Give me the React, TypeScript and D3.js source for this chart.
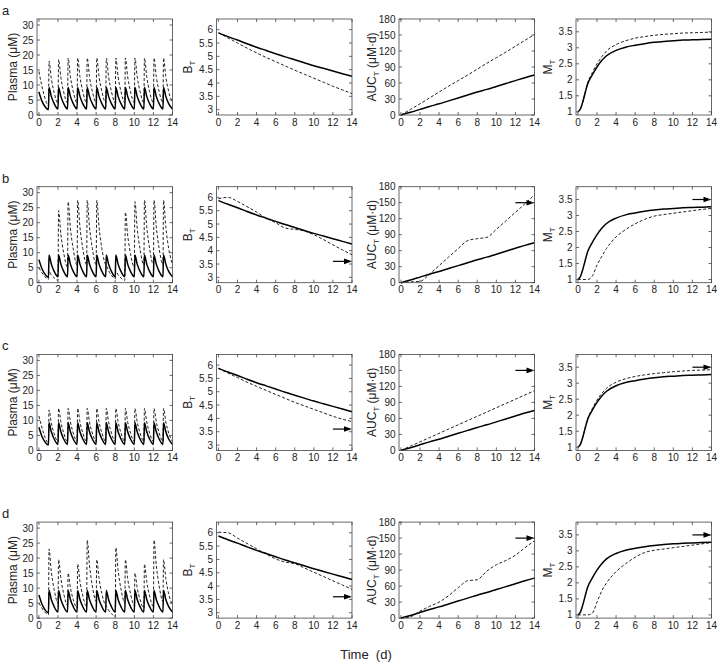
import React from "react";
import * as d3 from "d3";

// panel letters, one per row
const rowLabels = ["a", "b", "c", "d"];

// time grids
const days = [0, 1, 2, 3, 4, 5, 6, 7, 8, 9, 10, 11, 12, 13, 14];
const tM = [0, 0.25, 0.5, 0.75, 1, 1.5, 2, 2.5, 3, 4, 5, 6, 7, 8, 9, 10, 11, 12, 13, 14];
const xTicks = [0, 2, 4, 6, 8, 10, 12, 14];

// plasma: one entry per day -> [peak, value at +0.3 d, value at +0.6 d, trough at next dose]
const doseOffsets = [0.06, 0.3, 0.6, 1];
const plasmaRef = [
  [7.7, 4.8, 3.0, 1.8], [9.2, 6.2, 3.8, 2.0], [9.2, 6.2, 3.8, 2.0], [9.2, 6.2, 3.8, 2.0],
  [9.2, 6.2, 3.8, 2.0], [9.2, 6.2, 3.8, 2.0], [9.2, 6.2, 3.8, 2.0], [9.2, 6.2, 3.8, 2.0],
  [9.2, 6.2, 3.8, 2.0], [9.2, 6.2, 3.8, 2.0], [9.2, 6.2, 3.8, 2.0], [9.2, 6.2, 3.8, 2.0],
  [9.2, 6.2, 3.8, 2.0], [9.2, 6.2, 3.8, 2.0],
];
const plasmaA = [
  [14.5, 9.8, 6.0, 3.1], [18, 12.2, 7.4, 3.9], [18.5, 12.5, 7.6, 4.0], [19, 12.8, 7.8, 4.1],
  [19, 12.8, 7.8, 4.1], [19, 12.8, 7.8, 4.1], [19, 12.8, 7.8, 4.1], [19, 12.8, 7.8, 4.1],
  [19, 12.8, 7.8, 4.1], [19, 12.8, 7.8, 4.1], [19, 12.8, 7.8, 4.1], [19, 12.8, 7.8, 4.1],
  [19, 12.8, 7.8, 4.1], [19, 12.8, 7.8, 4.1],
];
const plasmaB = [
  [5.0, 3.4, 2.1, 1.1], [3.8, 2.6, 1.6, 0.8], [24, 16.2, 9.9, 5.2], [27, 18.2, 11.2, 5.9],
  [27.5, 18.6, 11.4, 6.0], [27.5, 18.6, 11.4, 6.0], [27.5, 18.6, 11.4, 6.0], [5.8, 4.0, 2.5, 1.3],
  [3.8, 2.6, 1.6, 0.8], [23.5, 15.9, 9.7, 5.1], [27, 18.2, 11.2, 5.9], [27.5, 18.6, 11.4, 6.0],
  [27.5, 18.6, 11.4, 6.0], [27.5, 18.6, 11.4, 6.0],
];
const plasmaC = [
  [11.5, 7.8, 4.7, 2.5], [13.5, 9.1, 5.6, 2.9], [14, 9.5, 5.8, 3.0], [14, 9.5, 5.8, 3.0],
  [14, 9.5, 5.8, 3.0], [14, 9.5, 5.8, 3.0], [14, 9.5, 5.8, 3.0], [14, 9.5, 5.8, 3.0],
  [14, 9.5, 5.8, 3.0], [14, 9.5, 5.8, 3.0], [14, 9.5, 5.8, 3.0], [14, 9.5, 5.8, 3.0],
  [14, 9.5, 5.8, 3.0], [14, 9.5, 5.8, 3.0],
];
const plasmaD = [
  [5.0, 3.4, 2.1, 1.1], [23, 15.5, 9.5, 5.0], [19.5, 13.2, 8.1, 4.2], [15, 10.1, 6.2, 3.3],
  [18, 12.2, 7.4, 3.9], [26, 17.6, 10.7, 5.6], [19.5, 13.2, 8.1, 4.2], [4.0, 2.6, 1.5, 0.5],
  [23.5, 15.9, 9.7, 5.1], [19.5, 13.2, 8.1, 4.2], [15, 10.1, 6.2, 3.3], [18, 12.2, 7.4, 3.9],
  [26, 17.6, 10.7, 5.6], [19.5, 13.2, 8.1, 4.2],
];

// B_T, daily
const btRef = [5.88, 5.74, 5.61, 5.47, 5.34, 5.22, 5.1, 4.98, 4.87, 4.76, 4.65, 4.55, 4.45, 4.35, 4.25];
const btA = [5.88, 5.69, 5.5, 5.31, 5.13, 4.96, 4.8, 4.64, 4.48, 4.33, 4.18, 4.03, 3.88, 3.74, 3.6];
const btB = [5.95, 6.0, 5.85, 5.65, 5.45, 5.22, 5.05, 4.85, 4.8, 4.74, 4.6, 4.42, 4.22, 4.03, 3.85];
const btC = [5.88, 5.7, 5.53, 5.36, 5.2, 5.05, 4.9, 4.75, 4.6, 4.47, 4.34, 4.21, 4.08, 3.97, 3.88];
const btD = [6.02, 6.0, 5.8, 5.6, 5.4, 5.2, 5.02, 4.9, 4.84, 4.68, 4.52, 4.36, 4.2, 4.04, 3.88];

// AUC_T, daily
const aucRef = [0, 5, 10.5, 16, 21, 26.5, 32, 37.5, 43, 48, 53.5, 59, 64.5, 70, 75];
const aucA = [0, 10.5, 21, 32, 43, 54, 64.5, 75, 86, 97, 107.5, 118, 129, 140, 151];
const aucB = [0, 1.5, 2.5, 16, 32, 48, 64, 79, 82.5, 85, 100, 116, 132, 148, 165];
const aucC = [0, 8, 16, 24, 32, 40, 48, 56, 64, 72, 80, 88, 96, 104, 112];
const aucD = [0, 2.5, 13, 22, 30, 42, 57, 70, 72, 88, 100, 108, 118, 132, 145];

// M_T on tM grid
const mtRef = [1.0, 1.08, 1.3, 1.58, 1.85, 2.15, 2.4, 2.6, 2.75, 2.92, 3.02, 3.08, 3.13, 3.17, 3.2, 3.22, 3.24, 3.25, 3.26, 3.27];
const mtA = [1.0, 1.08, 1.3, 1.6, 1.88, 2.22, 2.5, 2.72, 2.9, 3.1, 3.22, 3.3, 3.35, 3.39, 3.42, 3.44, 3.46, 3.47, 3.48, 3.49];
const mtB = [1.0, 1.0, 1.0, 1.0, 1.0, 1.1, 1.45, 1.72, 1.97, 2.33, 2.56, 2.74, 2.88, 2.98, 3.03, 3.07, 3.11, 3.15, 3.19, 3.22];
const mtC = [1.0, 1.08, 1.3, 1.6, 1.87, 2.2, 2.47, 2.68, 2.84, 3.03, 3.14, 3.21, 3.26, 3.3, 3.33, 3.36, 3.38, 3.4, 3.41, 3.42];
const mtD = [1.0, 1.0, 1.0, 1.0, 1.0, 1.05, 1.4, 1.75, 2.0, 2.35, 2.6, 2.8, 2.95, 3.02, 3.06, 3.1, 3.14, 3.18, 3.22, 3.26];

const plasmaRows = [plasmaA, plasmaB, plasmaC, plasmaD];
const btRows = [btA, btB, btC, btD];
const aucRows = [aucA, aucB, aucC, aucD];
const mtRows = [mtA, mtB, mtC, mtD];

// target arrows (rows b-d), drawn from t=12 to t=14
const arrowRows = [false, true, true, true];
const btTarget = 3.6;
const aucTarget = 150;
const mtTarget = 3.5;

const plasmaTicks = [0, 5, 10, 15, 20, 25, 30];
const btTicks = [3, 3.5, 4, 4.5, 5, 5.5, 6];
const aucTicks = [0, 30, 60, 90, 120, 150, 180];
const mtTicks = [1, 1.5, 2, 2.5, 3, 3.5];

const FONT = "'Liberation Sans', Arial, Helvetica, sans-serif";
const colLeft = [37, 216.5, 399, 576];
const panelW = 135.5;
const panelH = 96;
const rowTop = (i: number) => 19 + i * 167.7;

function plasmaPoints(vals: number[][]): [number, number][] {
  const pts: [number, number][] = [];
  vals.forEach((v, d) => {
    doseOffsets.forEach((o, k) => {
      pts.push([d === 0 && k === 0 ? 0 : d + o, v[k]]);
    });
  });
  return pts;
}

type PanelProps = {
  left: number;
  top: number;
  yDomain: [number, number];
  yTicks: number[];
  solid: [number, number][];
  dashed: [number, number][];
  curve: d3.CurveFactory;
  arrow?: number;
  label: React.ReactNode;
  labelX: number;
};

function Panel({ left, top, yDomain, yTicks, solid, dashed, curve, arrow, label, labelX }: PanelProps) {
  const x = d3.scaleLinear().domain([-0.2, 14]).range([left, left + panelW]);
  const y = d3.scaleLinear().domain(yDomain).range([top + panelH, top]);
  const line = d3
    .line<[number, number]>()
    .x((d) => x(d[0]))
    .y((d) => y(d[1]))
    .curve(curve);
  const bottom = top + panelH;
  const right = left + panelW;
  const tl = 3;
  return (
    <g>
      <path d={line(dashed) || ""} fill="none" stroke="#222" strokeWidth={1} strokeDasharray="3,2" />
      <path d={line(solid) || ""} fill="none" stroke="#000" strokeWidth={1.5} />
      {arrow !== undefined && (
        <g>
          <line x1={x(12)} x2={x(14) - 5} y1={y(arrow)} y2={y(arrow)} stroke="#000" strokeWidth={1.2} />
          <polygon
            points={`${x(14)},${y(arrow)} ${x(14) - 8},${y(arrow) - 2.8} ${x(14) - 8},${y(arrow) + 2.8}`}
            fill="#000"
          />
        </g>
      )}
      <rect x={left} y={top} width={panelW} height={panelH} fill="none" stroke="#444" strokeWidth={0.8} />
      {xTicks.map((t) => (
        <g key={"x" + t}>
          <line x1={x(t)} x2={x(t)} y1={bottom} y2={bottom - tl} stroke="#444" strokeWidth={0.8} />
          <line x1={x(t)} x2={x(t)} y1={top} y2={top + tl} stroke="#444" strokeWidth={0.8} />
          <text x={x(t)} y={bottom + 10.5} textAnchor="middle" fontSize={10} fontFamily={FONT} fill="#222">
            {t}
          </text>
        </g>
      ))}
      {yTicks.map((t) => (
        <g key={"y" + t}>
          <line x1={left} x2={left + tl} y1={y(t)} y2={y(t)} stroke="#444" strokeWidth={0.8} />
          <line x1={right} x2={right - tl} y1={y(t)} y2={y(t)} stroke="#444" strokeWidth={0.8} />
          <text x={left - 3.5} y={y(t) + 3.5} textAnchor="end" fontSize={10} fontFamily={FONT} fill="#222">
            {t}
          </text>
        </g>
      ))}
      <text
        transform={`translate(${labelX},${top + panelH / 2}) rotate(-90)`}
        textAnchor="middle"
        fontSize={12}
        fontFamily={FONT}
        fill="#222"
      >
        {label}
      </text>
    </g>
  );
}

const sub = (s: string) => (
  <tspan fontSize={8} dy={2.5}>
    {s}
  </tspan>
);

export default function App() {
  const pRef = plasmaPoints(plasmaRef);
  const zip = (ts: number[], vs: number[]) => ts.map((t, i) => [t, vs[i]] as [number, number]);
  return (
    <svg width={727} height={669} style={{ display: "block", position: "absolute", left: 0, top: 0 }}>
      <rect width={727} height={669} fill="#fff" />
      {rowLabels.map((r, i) => {
        const top = rowTop(i);
        return (
          <g key={r}>
            <text x={2} y={top - 4} fontSize={13} fontFamily={FONT} fill="#222">
              {r}
            </text>
            <Panel
              left={colLeft[0]}
              top={top}
              yDomain={[0, 32]}
              yTicks={plasmaTicks}
              solid={pRef}
              dashed={plasmaPoints(plasmaRows[i])}
              curve={d3.curveMonotoneX}
              label="Plasma (μM)"
              labelX={17}
            />
            <Panel
              left={colLeft[1]}
              top={top}
              yDomain={[2.8, 6.4]}
              yTicks={btTicks}
              solid={zip(days, btRef)}
              dashed={zip(days, btRows[i])}
              curve={d3.curveMonotoneX}
              arrow={arrowRows[i] ? btTarget : undefined}
              label={<>B{sub("T")}</>}
              labelX={192}
            />
            <Panel
              left={colLeft[2]}
              top={top}
              yDomain={[0, 180]}
              yTicks={aucTicks}
              solid={zip(days, aucRef)}
              dashed={zip(days, aucRows[i])}
              curve={d3.curveMonotoneX}
              arrow={arrowRows[i] ? aucTarget : undefined}
              label={
                <>
                  AUC{sub("T")}
                  <tspan dy={-2.5}>{"\u00a0(μM·d)"}</tspan>
                </>
              }
              labelX={376}
            />
            <Panel
              left={colLeft[3]}
              top={top}
              yDomain={[0.9, 3.9]}
              yTicks={mtTicks}
              solid={zip(tM, mtRef)}
              dashed={zip(tM, mtRows[i])}
              curve={d3.curveMonotoneX}
              arrow={arrowRows[i] ? mtTarget : undefined}
              label={<>M{sub("T")}</>}
              labelX={552}
            />
          </g>
        );
      })}
      <text x={366} y={659} textAnchor="middle" fontSize={13} fontFamily={FONT} fill="#222">
        {"Time\u00a0\u00a0(d)"}
      </text>
    </svg>
  );
}
